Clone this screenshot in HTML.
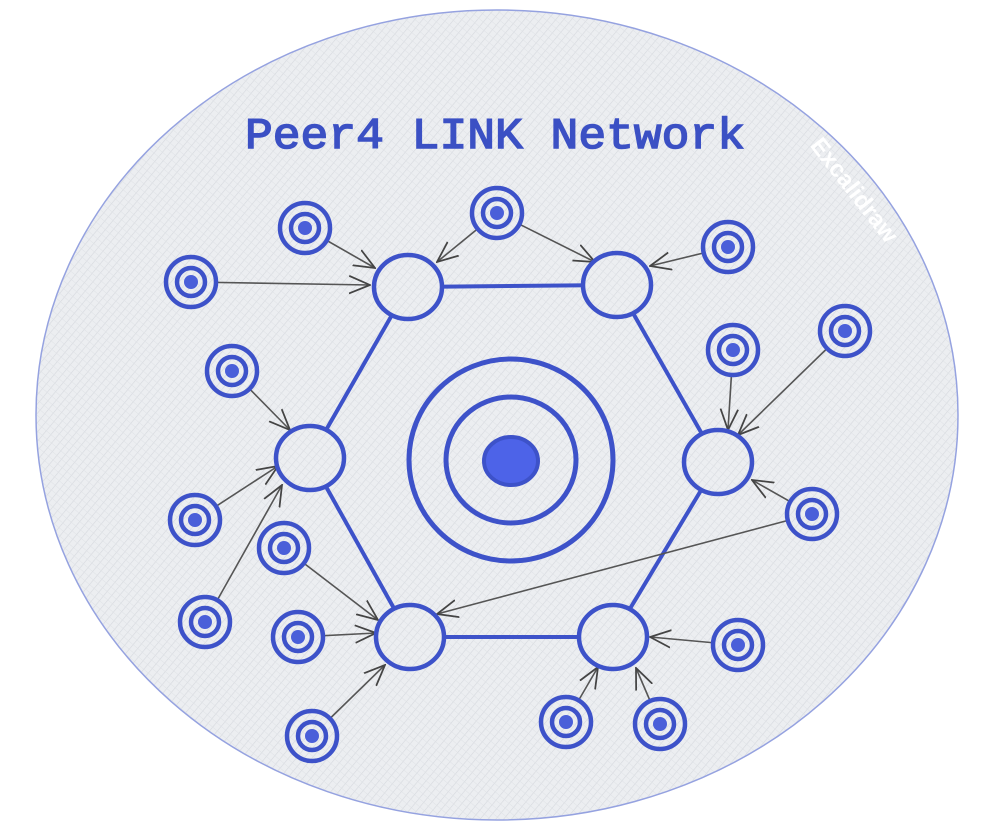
<!DOCTYPE html>
<html><head><meta charset="utf-8">
<style>html,body{margin:0;padding:0;background:#fff;}svg{display:block}</style>
</head><body>
<svg id="s" width="993" height="830" viewBox="0 0 993 830" xmlns="http://www.w3.org/2000/svg">
<defs>
<pattern id="h" width="6" height="6" patternUnits="userSpaceOnUse" patternTransform="rotate(40)">
<rect width="6" height="6" fill="#eceef1"/>
<line x1="0" y1="0" x2="0" y2="6" stroke="#d6d9de" stroke-width="1.2"/>
<line x1="0" y1="0" x2="6" y2="0" stroke="#dfe2e6" stroke-width="1"/>
</pattern>
<marker id="a" viewBox="0 0 20 20" refX="19" refY="10" markerWidth="22" markerHeight="22" markerUnits="userSpaceOnUse" orient="auto">
<path d="M0 2 L19 10 L0 18" fill="none" stroke="#444" stroke-width="1.6"/>
</marker>
</defs>
<ellipse cx="497" cy="415" rx="461" ry="405" fill="url(#h)" stroke="#95a2e0" stroke-width="1.5"/>
<text x="848" y="195" transform="rotate(52 848 195)" font-family="Liberation Sans, sans-serif" font-size="24" font-weight="bold" fill="#fff" text-anchor="middle">Excalidraw</text>
<text x="495" y="148" font-family="Liberation Mono, monospace" font-size="44" fill="#3b50c4" stroke="#3b50c4" stroke-width="1.5" text-anchor="middle" textLength="500" lengthAdjust="spacingAndGlyphs">Peer4 LINK Network</text>
<g id="g"></g>
</svg>
<script>
var B='#3d52c9',g=document.getElementById('g'),o='';
var H=[[408,287],[617,285],[718,462],[613,637],[410,637],[310,458]];
for(var i=0;i<6;i++){var p=H[i],q=H[(i+1)%6];o+='<line x1="'+p[0]+'" y1="'+p[1]+'" x2="'+q[0]+'" y2="'+q[1]+'" stroke="'+B+'" stroke-width="4"/>';}
var A=[[305,228,375,268],[191,282,370,285],[497,213,437,262],[497,213,595,262],[728,247,650,266],[733,350,728,430],[845,331,738,435],[812,514,752,480],[812,514,437,614],[232,371,290,430],[195,520,278,466],[205,622,282,485],[284,548,378,620],[298,637,376,633],[312,736,385,665],[738,645,650,637],[566,722,598,667],[660,724,636,668]];
A.forEach(function(a){o+='<line x1="'+a[0]+'" y1="'+a[1]+'" x2="'+a[2]+'" y2="'+a[3]+'" stroke="#555" stroke-width="1.6" marker-end="url(#a)"/>';});
H.forEach(function(p){o+='<ellipse cx="'+p[0]+'" cy="'+p[1]+'" rx="34" ry="32" fill="url(#h)" stroke="'+B+'" stroke-width="4.5"/>';});
var P=[[305,228],[191,282],[497,213],[728,247],[232,371],[733,350],[845,331],[195,520],[812,514],[284,548],[205,622],[298,637],[738,645],[312,736],[566,722],[660,724]];
P.forEach(function(p){o+='<circle cx="'+p[0]+'" cy="'+p[1]+'" r="25" fill="url(#h)" stroke="'+B+'" stroke-width="4.5"/><circle cx="'+p[0]+'" cy="'+p[1]+'" r="14" fill="none" stroke="'+B+'" stroke-width="4.5"/><circle cx="'+p[0]+'" cy="'+p[1]+'" r="7" fill="#4a5fd9"/>';});
o+='<ellipse cx="511" cy="460" rx="102" ry="101" fill="none" stroke="'+B+'" stroke-width="5"/><ellipse cx="511" cy="460" rx="65" ry="63" fill="none" stroke="'+B+'" stroke-width="5"/><ellipse cx="511" cy="461" rx="27" ry="24" fill="#4d63e8" stroke="'+B+'" stroke-width="4"/>';
g.innerHTML=o;
</script>
</body></html>
